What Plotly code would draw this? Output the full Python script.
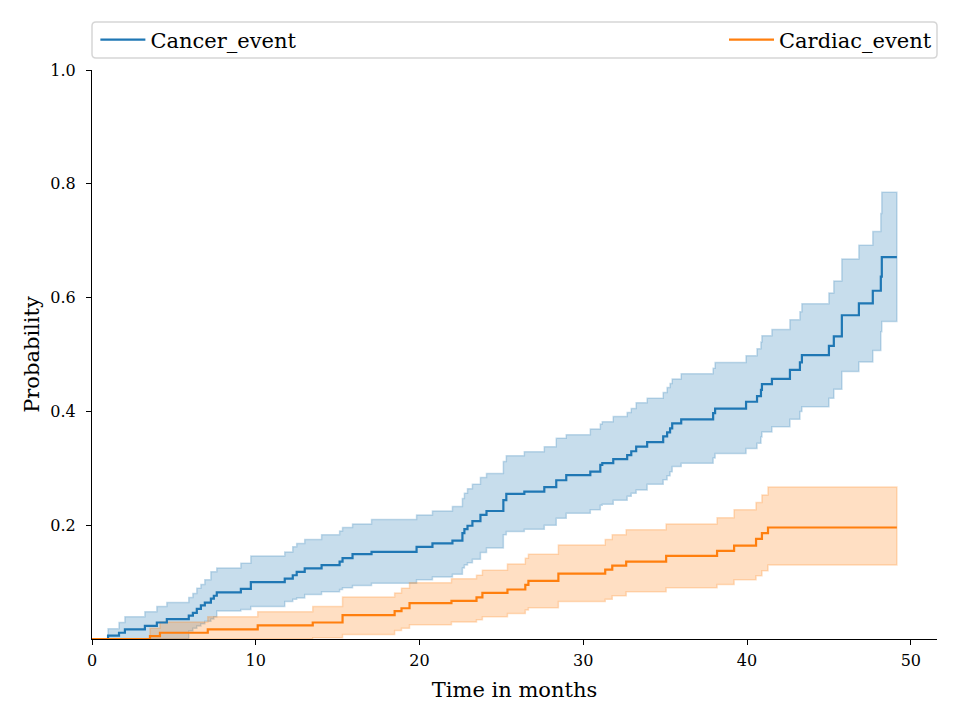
import plotly.graph_objects as go

# ---------------- data ----------------
END_TIME = 49.15

cancer_time = [0.0, 0.98, 1.65, 2.01, 3.23, 3.96, 4.57, 5.91, 6.16, 6.40, 6.65, 6.89,
               7.26, 7.44, 7.62, 9.09, 9.70, 11.77, 12.26, 12.50, 12.99, 14.02, 15.12,
               15.30, 15.91, 17.07, 19.82, 20.79, 22.01, 22.62, 22.74, 22.93, 23.23,
               23.72, 24.09, 25.12, 25.30, 26.40, 27.62, 28.35, 28.96, 30.43, 31.04,
               31.16, 31.83, 32.68, 32.93, 33.23, 33.90, 34.88, 35.12, 35.30, 35.43,
               35.98, 37.93, 38.05, 39.94, 40.61, 40.85, 40.91, 41.52, 42.62, 43.23,
               43.35, 45.00, 45.30, 45.79, 46.83, 47.68, 48.17, 48.23]
cancer_est = [0.0, 0.006, 0.011, 0.017, 0.023, 0.029, 0.035, 0.041, 0.046, 0.053, 0.059,
              0.064, 0.071, 0.076, 0.082, 0.088, 0.100, 0.106, 0.112, 0.118, 0.124, 0.130,
              0.136, 0.142, 0.149, 0.153, 0.162, 0.168, 0.173, 0.186, 0.193, 0.199, 0.207,
              0.218, 0.225, 0.244, 0.255, 0.259, 0.267, 0.279, 0.288, 0.294, 0.306, 0.309,
              0.316, 0.323, 0.330, 0.338, 0.346, 0.356, 0.363, 0.370, 0.379, 0.386, 0.397,
              0.405, 0.417, 0.427, 0.438, 0.448, 0.457, 0.473, 0.486, 0.499, 0.515, 0.532,
              0.569, 0.590, 0.612, 0.637, 0.671]
cancer_upper = [0.0, 0.018, 0.029, 0.039, 0.048, 0.057, 0.064, 0.073, 0.080, 0.089, 0.096,
                0.104, 0.118, 0.118, 0.125, 0.133, 0.146, 0.153, 0.162, 0.168, 0.175, 0.183,
                0.190, 0.196, 0.202, 0.210, 0.218, 0.225, 0.233, 0.247, 0.256, 0.264, 0.272,
                0.284, 0.291, 0.312, 0.322, 0.329, 0.338, 0.353, 0.359, 0.369, 0.378, 0.382,
                0.391, 0.398, 0.405, 0.415, 0.423, 0.433, 0.442, 0.449, 0.457, 0.466, 0.476,
                0.486, 0.498, 0.510, 0.522, 0.533, 0.544, 0.561, 0.575, 0.589, 0.608, 0.629,
                0.668, 0.692, 0.716, 0.748, 0.785]
cancer_lower = [0.0, 0.0, 0.0, 0.0, 0.0, 0.0, 0.0, 0.014, 0.019, 0.023, 0.027, 0.031,
                0.035, 0.039, 0.049, 0.052, 0.057, 0.066, 0.070, 0.072, 0.078, 0.083,
                0.087, 0.090, 0.094, 0.098, 0.104, 0.109, 0.114, 0.125, 0.130, 0.134,
                0.140, 0.152, 0.160, 0.183, 0.189, 0.193, 0.200, 0.212, 0.221, 0.227,
                0.235, 0.237, 0.244, 0.251, 0.256, 0.262, 0.272, 0.280, 0.287, 0.294,
                0.303, 0.309, 0.318, 0.326, 0.335, 0.344, 0.355, 0.364, 0.373, 0.386,
                0.400, 0.408, 0.423, 0.439, 0.470, 0.487, 0.507, 0.540, 0.558]

cardiac_time = [0.0, 3.54, 4.15, 7.07, 10.12, 13.48, 15.30, 18.48, 18.90, 19.39, 21.95,
                23.48, 23.84, 25.37, 26.46, 26.65, 28.48, 31.34, 31.77, 32.62, 35.06,
                38.17, 39.21, 40.55, 40.91, 41.28]
cardiac_est = [0.0, 0.005, 0.011, 0.017, 0.024, 0.029, 0.042, 0.049, 0.054, 0.063, 0.067,
               0.073, 0.081, 0.087, 0.095, 0.102, 0.115, 0.122, 0.129, 0.136, 0.146,
               0.155, 0.164, 0.176, 0.186, 0.196]
cardiac_upper = [0.0, 0.019, 0.030, 0.039, 0.048, 0.057, 0.074, 0.081, 0.089, 0.099, 0.106,
                 0.112, 0.121, 0.132, 0.142, 0.149, 0.165, 0.175, 0.183, 0.192, 0.202,
                 0.213, 0.227, 0.240, 0.253, 0.267]
cardiac_lower = [0.0, 0.0, 0.0, 0.0, 0.0, 0.002, 0.008, 0.015, 0.019, 0.025, 0.030,
                 0.034, 0.039, 0.045, 0.051, 0.055, 0.066, 0.070, 0.076, 0.083, 0.090,
                 0.096, 0.104, 0.111, 0.120, 0.130]

x_ticks = [0, 10, 20, 30, 40, 50]
y_ticks = [0.2, 0.4, 0.6, 0.8, 1.0]
y_tick_labels = ["0.2", "0.4", "0.6", "0.8", "1.0"]

BLUE = "#1f77b4"
ORANGE = "#ff7f0e"
FONT = "DejaVu Serif"


def step_path(t, v, t_end):
    """Expand a right-continuous step function into drawing vertices."""
    xs, ys = [], []
    for i in range(len(t)):
        nxt = t[i + 1] if i + 1 < len(t) else t_end
        xs += [t[i], nxt]
        ys += [v[i], v[i]]
    return xs, ys


def band(t, lo, hi, t_end, rgb):
    xu, yu = step_path(t, hi, t_end)
    xl, yl = step_path(t, lo, t_end)
    return go.Scatter(
        x=xu + xl[::-1], y=yu + yl[::-1], mode="lines", fill="toself",
        fillcolor=f"rgba({rgb},0.25)", line=dict(color=f"rgba({rgb},0.25)", width=1.5),
        showlegend=False, hoverinfo="skip",
    )


fig = go.Figure()
fig.add_trace(band(cancer_time, cancer_lower, cancer_upper, END_TIME, "31,119,180"))
fig.add_trace(band(cardiac_time, cardiac_lower, cardiac_upper, END_TIME, "255,127,14"))

fig.add_trace(go.Scatter(
    x=cancer_time + [END_TIME], y=cancer_est + [cancer_est[-1]], mode="lines",
    line=dict(color=BLUE, width=2.2, shape="hv"), name="Cancer_event", legend="legend",
))
fig.add_trace(go.Scatter(
    x=cardiac_time + [END_TIME], y=cardiac_est + [cardiac_est[-1]], mode="lines",
    line=dict(color=ORANGE, width=2.2, shape="hv"), name="Cardiac_event", legend="legend2",
))

# legend frame (spans the full axes width, like matplotlib's mode="expand")
y0, y1 = 1.0211, 1.0844
rx, ry = 4 / 845, 4 / 569
frame = (f"M {rx},{y0} L {1-rx},{y0} Q 1,{y0} 1,{y0+ry} L 1,{y1-ry} Q 1,{y1} {1-rx},{y1} "
         f"L {rx},{y1} Q 0,{y1} 0,{y1-ry} L 0,{y0+ry} Q 0,{y0} {rx},{y0} Z")
fig.add_shape(type="path", path=frame, xref="paper", yref="paper",
              line=dict(color="rgb(214,214,214)", width=1.5), fillcolor="rgba(255,255,255,0.8)",
              layer="below")

legend_common = dict(
    orientation="h", yanchor="middle", y=1.0527, bgcolor="rgba(0,0,0,0)",
    font=dict(family=FONT, size=21, color="black"), borderwidth=0,
    itemwidth=45,
)
fig.update_layout(
    width=960, height=720,
    # the page body adds an 8px offset, so the margins are shifted to compensate
    margin=dict(l=84, r=31, t=62, b=89, autoexpand=False),
    plot_bgcolor="white", paper_bgcolor="white",
    font=dict(family=FONT, color="black"),
    legend=dict(x=0.004, xanchor="left", **legend_common),
    legend2=dict(x=1.0, xanchor="right", **legend_common),
    xaxis=dict(
        range=[0, 51.6], tickvals=x_ticks, ticks="outside", ticklen=5, tickwidth=1.2,
        tickcolor="black", showline=True, linecolor="black", linewidth=1.2,
        showgrid=False, zeroline=False, tickfont=dict(family=FONT, size=16),
        ticklabelstandoff=2,
        title=dict(text="Time in months", font=dict(family=FONT, size=21), standoff=13),
    ),
    yaxis=dict(
        range=[0, 1.0], tickvals=y_ticks, ticktext=y_tick_labels, ticks="outside",
        ticklen=5, tickwidth=1.2, tickcolor="black", showline=True, linecolor="black",
        linewidth=1.2, showgrid=False, zeroline=False, tickfont=dict(family=FONT, size=16),
        ticklabelstandoff=7,
        title=dict(text="Probability", font=dict(family=FONT, size=21), standoff=4),
    ),
)

fig.write_html("out.html")
